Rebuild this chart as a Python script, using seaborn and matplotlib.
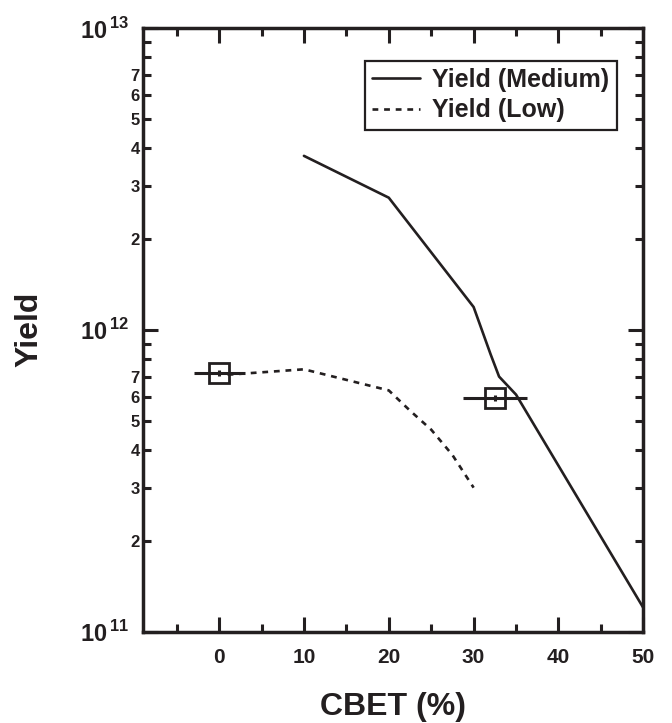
import matplotlib
matplotlib.use("Agg")
import matplotlib.pyplot as plt
import matplotlib.ticker as mticker
import numpy as np
import pandas as pd
import seaborn as sns

# Yield vs CBET fraction
cbet_medium = [10, 20, 30, 32, 33, 35, 50]
yield_medium = [3.77e12, 2.74e12, 1.19e12, 8.3e11, 7.0e11, 6.1e11, 1.2e11]

cbet_low = [1, 10, 20, 22.5, 25, 27.5, 30]
yield_low = [7.1e11, 7.4e11, 6.3e11, 5.4e11, 4.67e11, 3.85e11, 3.0e11]

# Measured points with horizontal uncertainty
meas_cbet = [0, 32.5]
meas_yield = [7.2e11, 5.94e11]
meas_xerr = [3.0, 3.8]
meas_yerr_frac = [0.025, 0.025]

x_ticks = [0, 10, 20, 30, 40, 50]
x_label = "CBET (%)"
y_label = "Yield"
series_names = ["Yield (Medium)", "Yield (Low)"]

INK = "#231f20"

sns.set_style("ticks")
plt.rcParams["font.family"] = ["Liberation Sans", "DejaVu Sans"]
plt.rcParams["font.weight"] = "bold"
plt.rcParams["mathtext.fontset"] = "custom"
plt.rcParams["mathtext.rm"] = "Liberation Sans:bold"
plt.rcParams["mathtext.bf"] = "Liberation Sans:bold"
plt.rcParams["text.color"] = INK
plt.rcParams["axes.labelcolor"] = INK
plt.rcParams["xtick.color"] = INK
plt.rcParams["ytick.color"] = INK

fig = plt.figure(figsize=(6.72, 7.23), dpi=100)
ax = fig.add_axes([0.2124, 0.1263, 0.9573 - 0.2124, 0.9613 - 0.1263])

df_med = pd.DataFrame({"cbet": cbet_medium, "yield": yield_medium})
df_low = pd.DataFrame({"cbet": cbet_low, "yield": yield_low})

sns.lineplot(data=df_med, x="cbet", y="yield", ax=ax, color=INK,
             linewidth=1.9, label=series_names[0], sort=False)
sns.lineplot(data=df_low, x="cbet", y="yield", ax=ax, color=INK,
             linewidth=1.9, dashes=False, label=series_names[1], sort=False)
ax.lines[1].set_dashes((2.2, 2.2))

yerr = np.array(meas_yield) * np.array(meas_yerr_frac)
ax.errorbar(meas_cbet, meas_yield, xerr=meas_xerr, yerr=yerr, fmt="s",
            mfc="none", mec=INK, mew=2.0, ms=14, ecolor=INK,
            elinewidth=2.2, capsize=0, zorder=5)

ax.set_yscale("log")
ax.set_xlim(-9, 50)
ax.set_ylim(1e11, 1e13)

ax.set_xticks(x_ticks)
ax.xaxis.set_minor_locator(mticker.MultipleLocator(5))
ax.yaxis.set_major_locator(mticker.LogLocator(base=10, numticks=10))
ax.yaxis.set_minor_locator(mticker.LogLocator(base=10, subs=np.arange(2, 10), numticks=20))


def major_fmt(v, pos):
    e = int(round(np.log10(v)))
    return r"$\mathbf{10}^{\,\mathbf{%d}}$" % e


def minor_fmt(v, pos):
    e = np.floor(np.log10(v) + 1e-9)
    m = int(round(v / 10 ** e))
    return str(m) if 2 <= m <= 7 else ""


ax.yaxis.set_major_formatter(mticker.FuncFormatter(major_fmt))
ax.yaxis.set_minor_formatter(mticker.FuncFormatter(minor_fmt))

ax.tick_params(axis="both", which="both", direction="in", top=True, right=True,
               width=2.2, color=INK)
ax.tick_params(axis="both", which="major", length=11)
ax.tick_params(axis="both", which="minor", length=5.5)
ax.tick_params(axis="x", which="major", labelsize=15, pad=12)
ax.tick_params(axis="y", which="major", labelsize=17, pad=10)
ax.tick_params(axis="y", which="minor", labelsize=12, pad=2)

for s in ax.spines.values():
    s.set_linewidth(2.5)
    s.set_color(INK)

ax.set_xlabel(x_label, fontsize=23, fontweight="bold", labelpad=18)
ax.set_ylabel(y_label, fontsize=23, fontweight="bold", labelpad=25)

leg = ax.legend(loc="upper right", bbox_to_anchor=(0.9469, 0.9458),
                borderaxespad=0, fontsize=18, frameon=True, fancybox=False,
                framealpha=1, handlelength=1.9, handletextpad=0.5,
                borderpad=0.3, labelspacing=0.25)
leg.get_frame().set_edgecolor(INK)
leg.get_frame().set_linewidth(1.6)
for t in leg.get_texts():
    t.set_fontweight("bold")

fig.savefig("out.png", dpi=100)
